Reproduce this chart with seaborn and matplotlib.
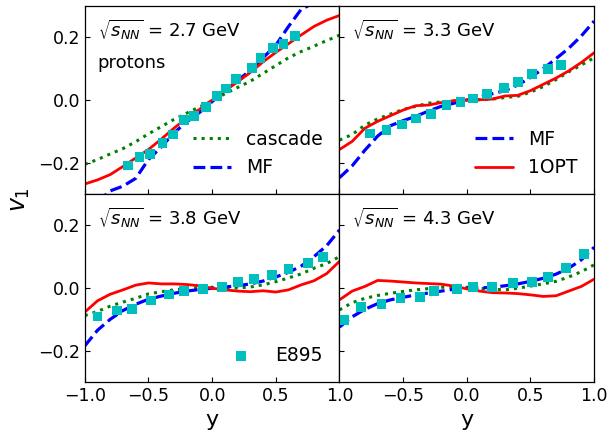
import matplotlib
matplotlib.use("Agg")
import matplotlib.pyplot as plt
import seaborn as sns

# rapidity grid for the model curves
y_grid = [-1.0, -0.9, -0.8, -0.7, -0.6, -0.5, -0.4, -0.3, -0.2, -0.1, 0.0,
          0.1, 0.2, 0.3, 0.4, 0.5, 0.6, 0.7, 0.8, 0.9, 1.0]

# 2.7 GeV
casc_27 = [-0.205, -0.19, -0.172, -0.155, -0.133, -0.108, -0.085, -0.062, -0.042, -0.022, -0.003,
           0.02, 0.04, 0.06, 0.085, 0.11, 0.135, 0.155, 0.172, 0.19, 0.207]
mf_27 = [-0.36, -0.325, -0.29, -0.275, -0.25, -0.19, -0.15, -0.105, -0.07, -0.04, -0.005,
         0.03, 0.062, 0.095, 0.135, 0.175, 0.235, 0.29, 0.31, 0.34, 0.36]
opt_27 = [-0.268, -0.255, -0.238, -0.212, -0.185, -0.158, -0.125, -0.09, -0.058, -0.03, 0.0,
          0.03, 0.058, 0.088, 0.122, 0.152, 0.18, 0.208, 0.235, 0.255, 0.27]
e895_x_27 = [-0.66, -0.57, -0.49, -0.39, -0.31, -0.22, -0.14, -0.05, 0.04, 0.11, 0.19, 0.31, 0.38, 0.48, 0.56, 0.65]
e895_v_27 = [-0.209, -0.182, -0.171, -0.136, -0.110, -0.065, -0.051, -0.022, 0.013, 0.037, 0.066,
             0.103, 0.135, 0.167, 0.18, 0.204]

# 3.3 GeV
casc_33 = [-0.128, -0.11, -0.08, -0.06, -0.045, -0.03, -0.02, -0.01, -0.006, -0.003, 0.0,
           0.001, 0.003, 0.008, 0.012, 0.025, 0.043, 0.065, 0.09, 0.112, 0.135]
mf_33 = [-0.248, -0.21, -0.16, -0.115, -0.082, -0.066, -0.052, -0.035, -0.02, -0.01, 0.0,
         0.01, 0.02, 0.03, 0.048, 0.072, 0.1, 0.132, 0.165, 0.205, 0.252]
opt_33 = [-0.158, -0.132, -0.09, -0.068, -0.05, -0.032, -0.018, -0.016, -0.008, -0.002, 0.0,
          0.001, 0.003, 0.013, 0.015, 0.03, 0.05, 0.07, 0.093, 0.12, 0.151]
e895_x_33 = [-0.76, -0.63, -0.51, -0.40, -0.28, -0.16, -0.05, 0.05, 0.16, 0.29, 0.40, 0.51, 0.64, 0.74]
e895_v_33 = [-0.107, -0.096, -0.078, -0.059, -0.044, -0.017, -0.005, 0.005, 0.018, 0.039, 0.058,
             0.084, 0.098, 0.111]

# 3.8 GeV
casc_38 = [-0.088, -0.075, -0.058, -0.045, -0.033, -0.019, -0.012, -0.006, -0.002, 0.001, 0.002,
           0.0, 0.0, 0.003, 0.01, 0.02, 0.032, 0.045, 0.063, 0.078, 0.1]
mf_38 = [-0.185, -0.135, -0.1, -0.072, -0.052, -0.036, -0.026, -0.017, -0.01, -0.005, -0.001,
         0.003, 0.007, 0.013, 0.022, 0.035, 0.05, 0.07, 0.1, 0.135, 0.185]
opt_38 = [-0.077, -0.041, -0.02, -0.006, 0.009, 0.016, 0.013, 0.013, 0.011, 0.007, -0.001,
          -0.006, -0.01, -0.012, -0.009, -0.013, -0.006, 0.01, 0.023, 0.046, 0.085]
e895_x_38 = [-0.90, -0.75, -0.63, -0.48, -0.34, -0.22, -0.07, 0.08, 0.20, 0.33, 0.47, 0.60, 0.75, 0.87]
e895_v_38 = [-0.091, -0.072, -0.067, -0.040, -0.021, -0.009, -0.003, 0.004, 0.018, 0.029, 0.042,
             0.061, 0.080, 0.100]

# 4.3 GeV
casc_43 = [-0.07, -0.047, -0.033, -0.024, -0.017, -0.011, -0.006, -0.002, 0.002, 0.004, 0.002,
           -0.001, -0.004, -0.006, -0.001, 0.006, 0.013, 0.021, 0.035, 0.052, 0.074]
mf_43 = [-0.125, -0.092, -0.068, -0.05, -0.038, -0.03, -0.022, -0.016, -0.01, -0.004, -0.001,
         0.0, 0.002, 0.007, 0.013, 0.021, 0.031, 0.044, 0.063, 0.09, 0.13]
opt_43 = [-0.038, -0.01, 0.005, 0.024, 0.022, 0.019, 0.016, 0.014, 0.012, 0.006, -0.003,
          -0.01, -0.015, -0.016, -0.018, -0.022, -0.027, -0.025, -0.01, 0.005, 0.028]
e895_x_43 = [-0.96, -0.83, -0.67, -0.52, -0.37, -0.26, -0.08, 0.05, 0.20, 0.36, 0.51, 0.64, 0.78, 0.92]
e895_v_43 = [-0.101, -0.060, -0.051, -0.033, -0.030, -0.009, -0.003, 0.004, 0.002, 0.016, 0.020,
             0.036, 0.065, 0.108]

energies = ["2.7", "3.3", "3.8", "4.3"]
# which entries go in each panel's legend
legend_items = [["cascade", "MF"], ["MF", "1OPT"], ["E895"], []]

sns.set_style("ticks", {"xtick.direction": "in", "ytick.direction": "in"})
plt.rcParams.update({
    "font.family": ["DejaVu Sans"],
    "axes.linewidth": 0.9,
    "axes.edgecolor": "black",
    "axes.labelcolor": "black",
    "text.color": "black",
    "xtick.color": "black",
    "ytick.color": "black",
    "xtick.major.size": 3.5,
    "ytick.major.size": 3.5,
    "xtick.labelsize": 12.5,
    "ytick.labelsize": 12.5,
    "mathtext.fontset": "dejavusans",
})

fig, axes = plt.subplots(2, 2, figsize=(6.1, 4.34), dpi=100)
fig.subplots_adjust(left=0.139, right=0.974, top=0.986, bottom=0.12, wspace=0, hspace=0)

panels = [
    (axes[0, 0], casc_27, mf_27, opt_27, e895_x_27, e895_v_27),
    (axes[0, 1], casc_33, mf_33, opt_33, e895_x_33, e895_v_33),
    (axes[1, 0], casc_38, mf_38, opt_38, e895_x_38, e895_v_38),
    (axes[1, 1], casc_43, mf_43, opt_43, e895_x_43, e895_v_43),
]

def lab(name, items):
    return name if name in items else "_nolegend_"

for i, (ax, casc, mf, opt, ex, ev) in enumerate(panels):
    items = legend_items[i]
    sns.lineplot(x=y_grid, y=casc, ax=ax, color="g", linestyle=":", lw=2.2, label=lab("cascade", items))
    sns.lineplot(x=y_grid, y=mf, ax=ax, color="b", linestyle="--", lw=2.3, label=lab("MF", items))
    sns.lineplot(x=y_grid, y=opt, ax=ax, color="r", linestyle="-", lw=2, label=lab("1OPT", items))
    sns.scatterplot(x=ex, y=ev, ax=ax, marker="s", color="c", s=50, edgecolor="none",
                    linewidth=0, label=lab("E895", items), zorder=3)
    ax.set_xlim(-1, 1)
    ax.set_ylim(-0.3, 0.3)
    ax.set_yticks([-0.2, 0.0, 0.2])
    if i == 3:
        ax.set_xticks([-0.5, 0.0, 0.5, 1.0])
    else:
        ax.set_xticks([-1.0, -0.5, 0.0, 0.5, 1.0])
    ax.tick_params(top=False, right=False, labelbottom=(i >= 2), labelleft=(i % 2 == 0))
    ax.text(0.05, 0.875, r"$\sqrt{s_{NN}}$" + " = " + energies[i] + " GeV",
            transform=ax.transAxes, fontsize=13, va="center", ha="left")
    if items:
        ax.legend(loc="lower right", frameon=False, fontsize=13.5, scatterpoints=1)
    elif ax.get_legend() is not None:
        ax.get_legend().remove()
    ax.set_xlabel("y" if i >= 2 else "", fontsize=16)
    ax.set_ylabel("")

axes[0, 0].text(0.05, 0.697, "protons", transform=axes[0, 0].transAxes, fontsize=13,
                va="center", ha="left")
fig.text(0.033, 0.54, r"$v_1$", rotation=90, fontsize=17, va="center", ha="center")

fig.savefig("out.png", dpi=100)
